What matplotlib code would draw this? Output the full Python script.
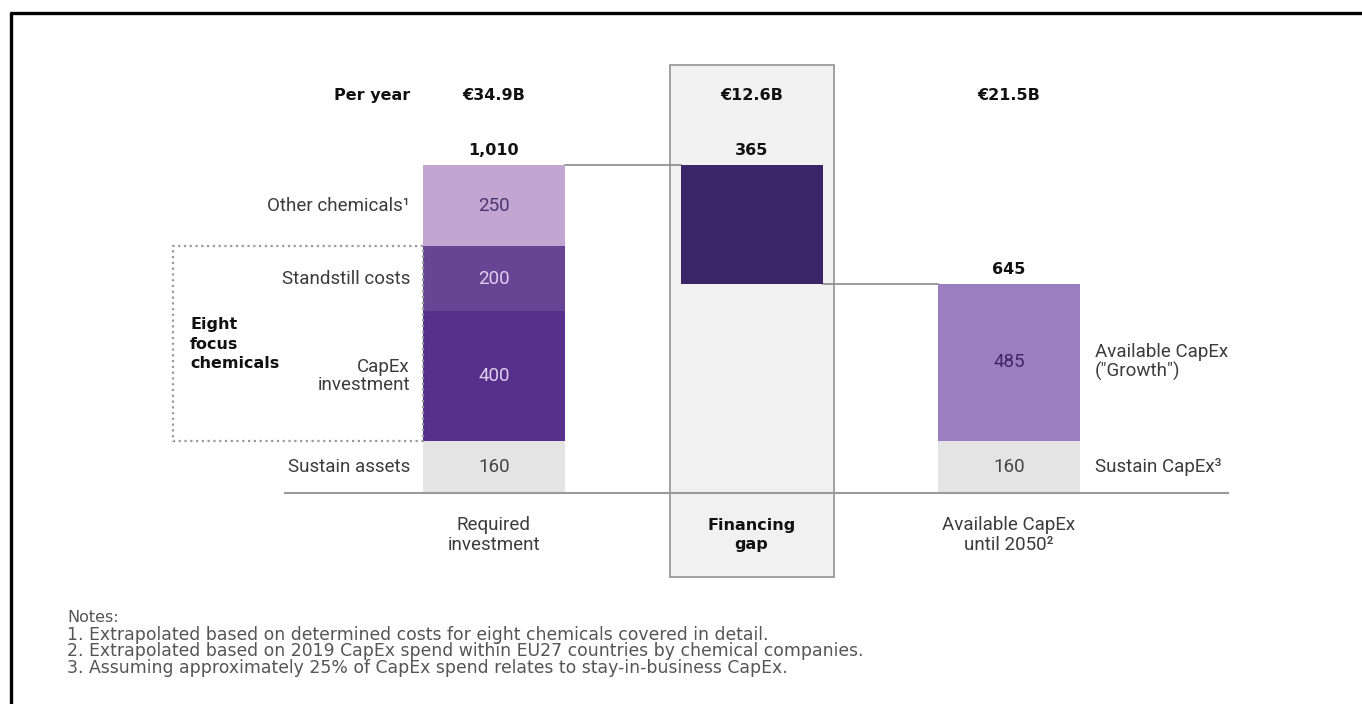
import numpy as np
import matplotlib
matplotlib.use("Agg")
import matplotlib.pyplot as plt
from matplotlib.patches import Rectangle
from matplotlib.lines import Line2D

# data
stage_labels = ["Required\ninvestment", "Financing\ngap", "Available CapEx\nuntil 2050²"]
per_year = ["€34.9B", "€12.6B", "€21.5B"]
required_labels = ["Sustain assets", "CapEx\ninvestment", "Standstill costs", "Other chemicals¹"]
required_values = [160, 400, 200, 250]
available_labels = ["Sustain CapEx³", "Available CapEx\n(\"Growth\")"]
available_values = [160, 485]
notes = ["Notes:",
         "1. Extrapolated based on determined costs for eight chemicals covered in detail.",
         "2. Extrapolated based on 2019 CapEx spend within EU27 countries by chemical companies.",
         "3. Assuming approximately 25% of CapEx spend relates to stay-in-business CapEx."]

required_colors = ["#e4e4e4", "#56308b", "#684495", "#c3a5d2"]
required_text = ["#444444", "#ddd0ee", "#ddd0ee", "#4a3570"]
available_colors = ["#e4e4e4", "#9b7ebf"]
available_text = ["#444444", "#3d2566"]
gap_color = "#3c2566"

REG = ["Roboto", "DejaVu Sans"]
BOLD = ["DejaVu Sans"]
reg_size = 13.5
bold_size = 11.5
label_color = "#3c3c3c"

W, H = 1362, 704
fig = plt.figure(figsize=(W / 100, H / 100), dpi=100)
ax = fig.add_axes([0, 0, 1, 1])
ax.axis("off")

# pixel anchors -> data scale
x0_px, step_px = 494, 257.5
base_px, unit_px = 493, 328 / 1010
ax.set_xlim(-x0_px / step_px, (W - x0_px) / step_px)
ax.set_ylim((base_px - H) / unit_px, base_px / unit_px)

def px_x(px):
    return (px - x0_px) / step_px

def px_y(py):
    return (base_px - py) / unit_px

bar_w = 142 / step_px
total_req = sum(required_values)
total_av = sum(available_values)
gap_value = total_req - total_av

# grey box behind financing gap
box_half = 82 / step_px
ax.add_patch(Rectangle((1 - box_half, px_y(577)), 2 * box_half, px_y(65) - px_y(577),
                       facecolor="#f1f1f1", edgecolor="#9a9a9a", lw=1.3, zorder=0))

# bars
req_bottoms = np.cumsum([0] + required_values[:-1])
ax.bar([0] * len(required_values), required_values, bottom=req_bottoms, width=bar_w,
       color=required_colors, zorder=2)
ax.bar(1, gap_value, bottom=total_av, width=bar_w, color=gap_color, zorder=2)
av_bottoms = np.cumsum([0] + available_values[:-1])
ax.bar([2] * len(available_values), available_values, bottom=av_bottoms, width=bar_w,
       color=available_colors, zorder=2)

# connectors and baseline
ax.plot([bar_w / 2, 1 - bar_w / 2], [total_req, total_req], color="#8a8a8a", lw=1.2, zorder=1)
ax.plot([1 + bar_w / 2, 2 - bar_w / 2], [total_av, total_av], color="#8a8a8a", lw=1.2, zorder=1)
ax.plot([px_x(285), px_x(1228)], [0, 0], color="#9a9a9a", lw=1.5, zorder=3)

# dotted box around the eight focus chemicals
dot_top = req_bottoms[2] + required_values[2]
dot_bot = req_bottoms[1]
dl, dr = px_x(173), -bar_w / 2
ax.plot([dr, dl, dl, dr, dr], [dot_top, dot_top, dot_bot, dot_bot, dot_top],
        color="#9a9a9a", lw=1.6, ls=(0, (1, 1.6)), zorder=3)

# segment values and labels
for lab, val, b, tc in zip(required_labels, required_values, req_bottoms, required_text):
    ax.text(0, b + val / 2, f"{val}", ha="center", va="center", color=tc,
            family=REG, fontsize=reg_size, zorder=4)
    ax.text(px_x(410), b + val / 2, lab, ha="right", va="center", color=label_color,
            family=REG, fontsize=reg_size, linespacing=1.05)
for lab, val, b, tc in zip(available_labels, available_values, av_bottoms, available_text):
    ax.text(2, b + val / 2, f"{val}", ha="center", va="center", color=tc,
            family=REG, fontsize=reg_size, zorder=4)
    ax.text(px_x(1095), b + val / 2, lab, ha="left", va="center", color=label_color,
            family=REG, fontsize=reg_size, linespacing=1.05)

# totals
for x, top, val in [(0, total_req, total_req), (1, total_req, gap_value), (2, total_av, total_av)]:
    ax.annotate(f"{val:,}", (x, top), xytext=(0, 5), textcoords="offset points",
                ha="center", va="bottom", family=BOLD, fontweight="bold",
                fontsize=bold_size, color="#111111")

# header row
ax.text(px_x(410), px_y(95), "Per year", ha="right", va="center", family=BOLD,
        fontweight="bold", fontsize=bold_size, color="#111111")
for i, s in enumerate(per_year):
    ax.text(i, px_y(95), s, ha="center", va="center", family=BOLD,
            fontweight="bold", fontsize=bold_size, color="#111111")

ax.text(px_x(190), px_y(344), "Eight\nfocus\nchemicals", ha="left", va="center",
        family=BOLD, fontweight="bold", fontsize=bold_size, color="#111111", linespacing=1.4)

# category labels under baseline
for i, s in enumerate(stage_labels):
    if i == 1:
        ax.text(i, px_y(535), s, ha="center", va="center", family=BOLD,
                fontweight="bold", fontsize=bold_size, color="#111111", linespacing=1.3)
    else:
        ax.text(i, px_y(535), s, ha="center", va="center", family=REG,
                fontsize=reg_size, color=label_color, linespacing=1.1)

# notes
for k, line in enumerate(notes):
    ax.text(px_x(67), px_y(618 + 16.6 * k), line, ha="left", va="center",
            family=["DejaVu Sans"], fontsize=12.4 if k else 11.5, color="#555555")

# page frame (top and left edges)
fig.add_artist(Line2D([10 / W, 1], [1 - 12.5 / H, 1 - 12.5 / H], color="black", lw=2.4,
                      solid_capstyle="butt"))
fig.add_artist(Line2D([10.5 / W, 10.5 / W], [0, 1 - 11.5 / H], color="black", lw=2.4,
                      solid_capstyle="butt"))

fig.savefig("out.png", dpi=100, facecolor="white")
